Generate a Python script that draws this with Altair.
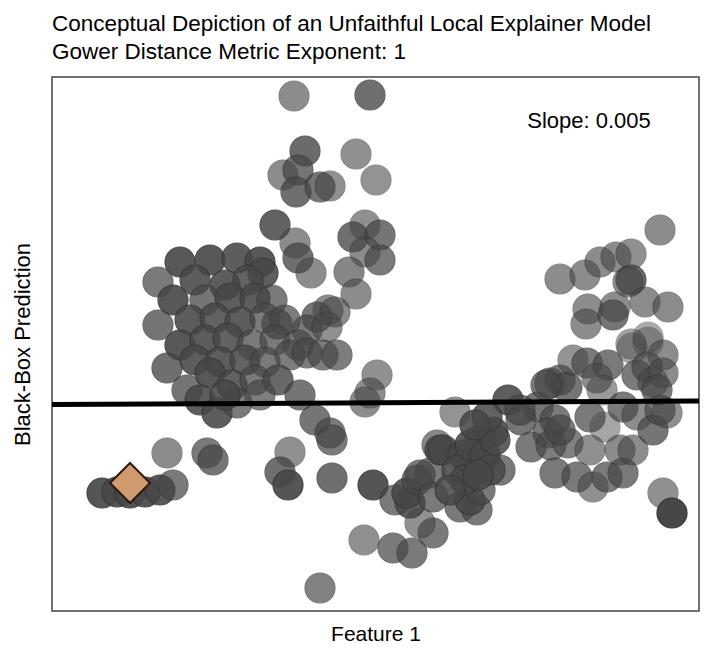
import altair as alt
import pandas as pd

# Feature 1 values, black-box predictions and weights (opacity) of the neighbourhood samples
feat = [2.42, 3.18, 2.53, 2.31, 2.46, 2.44, 2.68, 2.78, 3.04, 3.24,
        2.23, 2.43, 2.46, 2.59, 3.13, 3.01, 3.28, 3.13, 3.28, 2.97,
        3.04, 2.76, 2.65, 2.83, 2.25, 2.55, 2.75,
        1.28, 1.58, 1.85, 2.08, 1.06, 1.43, 1.73, 2.11, 1.96, 1.21,
        1.53, 1.78, 2.03, 2.20, 1.06, 1.38, 1.63, 1.88, 2.13, 2.33,
        1.28, 1.53, 1.76, 2.00, 2.23, 2.46, 1.15, 1.43, 1.68, 1.93,
        2.13, 2.38, 2.55, 2.71, 2.85, 1.35, 1.58, 1.80, 2.03, 2.26,
        2.48, 1.48, 1.65, 1.85, 1.73, 2.08, 2.63, 2.78, 2.80, 3.25,
        3.18, 3.13,
        1.15, 1.55, 1.61, 0.50, 0.65, 0.78, 0.93, 1.08, 1.21, 2.38,
        2.28, 2.36, 2.80, 3.12, 2.68,
        3.21, 3.41, 3.60, 3.81, 3.68, 3.58, 3.43, 3.55, 3.65, 3.78,
        3.85, 3.88, 4.03, 4.08, 4.25, 4.18, 3.91, 4.11, 4.28, 4.41,
        4.48, 4.21, 4.05, 3.68, 3.81, 4.28, 4.18, 4.33, 4.13, 4.38,
        3.98, 4.26, 4.43, 4.56, 4.86, 4.69, 5.03, 4.96, 4.79, 4.99,
        5.16, 4.68, 4.35, 4.23,
        5.08, 5.38, 5.03, 5.25, 5.41, 5.55, 5.71, 5.68, 5.81, 5.53,
        5.38, 5.71, 5.85, 6.01, 6.08, 6.15, 6.11, 6.20,
        4.98, 5.08, 5.15, 5.21, 5.35, 5.56, 5.45, 5.50, 5.80, 5.96,
        6.11, 5.85, 5.95, 6.01, 6.11, 6.05, 4.94,
        6.08, 5.08, 5.33, 5.48, 5.64, 5.79, 5.79, 5.76, 5.93, 6.16,
        5.36, 5.63, 5.34, 5.61, 5.96, 5.79]

pred = [5.15, 5.16, 4.60, 4.36, 4.41, 4.19, 4.24, 4.25, 4.57, 4.31,
        3.86, 3.68, 3.53, 3.38, 3.86, 3.74, 3.76, 3.59, 3.51, 3.39,
        3.17, 3.01, 2.94, 2.99, 2.87, 2.81, 2.84,
        3.49, 3.51, 3.53, 3.49, 3.29, 3.31, 3.26, 3.38, 3.31, 3.11,
        3.11, 3.13, 3.13, 3.11, 2.86, 2.91, 2.93, 2.89, 2.93, 2.91,
        2.66, 2.71, 2.73, 2.66, 2.71, 2.66, 2.43, 2.51, 2.49, 2.51,
        2.49, 2.56, 2.58, 2.56, 2.56, 2.21, 2.38, 2.26, 2.31, 2.31,
        2.16, 2.11, 1.98, 2.08, 2.16, 2.16, 1.91, 1.78, 1.71, 2.36,
        2.18, 2.09,
        1.58, 1.58, 1.51, 1.18, 1.19, 1.18, 1.19, 1.21, 1.26, 1.59,
        1.39, 1.26, 1.33, 0.71, 0.23,
        1.26, 0.63, 0.58, 0.78, 0.88, 1.08, 1.11, 1.18, 1.31, 1.38,
        1.66, 1.61, 1.99, 1.04, 1.01, 1.11, 1.61, 1.56, 1.71, 1.79,
        1.41, 1.48, 1.41, 1.36, 1.14, 1.21, 1.66, 1.56, 1.31, 1.41,
        1.21, 1.36, 1.71, 2.11, 2.04, 1.91, 1.91, 1.78, 1.64, 1.66,
        1.68, 2.01, 1.94, 1.86,
        1.81, 1.61, 1.38, 1.34, 1.24, 1.34, 1.38, 1.61, 1.61, 1.84,
        1.94, 2.04, 1.96, 1.81, 2.01, 1.98, 1.18, 0.98,
        2.28, 2.31, 2.24, 2.51, 2.48, 2.46, 2.33, 2.21, 2.63, 2.69,
        2.56, 2.36, 2.44, 2.29, 2.38, 2.21, 2.26,
        3.81, 3.32, 3.36, 3.49, 3.54, 3.57, 3.31, 3.29, 3.09, 3.04,
        3.02, 3.04, 2.87, 2.96, 2.74, 2.67]

weight = [0.62, 0.78, 0.80, 0.62, 0.75, 0.78, 0.75, 0.60, 0.60, 0.58,
          0.85, 0.62, 0.78, 0.62, 0.60, 0.78, 0.75, 0.62, 0.72, 0.65,
          0.62, 0.62, 0.75, 0.62, 0.75, 0.72, 0.60,
          0.90, 0.90, 0.88, 0.90, 0.72, 0.88, 0.88, 0.88, 0.85, 0.90,
          0.75, 0.88, 0.88, 0.72, 0.75, 0.88, 0.85, 0.88, 0.72, 0.70,
          0.90, 0.88, 0.85, 0.72, 0.72, 0.70, 0.78, 0.88, 0.88, 0.85,
          0.72, 0.70, 0.72, 0.70, 0.70, 0.75, 0.90, 0.85, 0.72, 0.82,
          0.75, 0.88, 0.88, 0.72, 0.88, 0.70, 0.75, 0.72, 0.72, 0.60,
          0.62, 0.62,
          0.62, 0.72, 0.75, 0.92, 0.92, 0.92, 0.92, 0.90, 0.72, 0.60,
          0.78, 0.92, 0.78, 0.60, 0.68,
          0.92, 0.72, 0.72, 0.72, 0.60, 0.88, 0.72, 0.88, 0.72, 0.72,
          0.65, 0.85, 0.58, 0.72, 0.72, 0.88, 0.85, 0.88, 0.88, 0.88,
          0.72, 0.88, 0.88, 0.72, 0.72, 0.72, 0.88, 0.88, 0.88, 0.85,
          0.85, 0.88, 0.85, 0.88, 0.75, 0.75, 0.72, 0.72, 0.72, 0.70,
          0.68, 0.75, 0.85, 0.88,
          0.72, 0.60, 0.72, 0.72, 0.60, 0.72, 0.72, 0.62, 0.62, 0.48,
          0.72, 0.72, 0.62, 0.75, 0.72, 0.60, 0.60, 1.00,
          0.72, 0.72, 0.75, 0.58, 0.72, 0.72, 0.62, 0.55, 0.48, 0.45,
          0.62, 0.72, 0.72, 0.62, 0.62, 0.72, 0.72,
          0.62, 0.62, 0.62, 0.62, 0.62, 0.60, 0.82, 0.62, 0.62, 0.62,
          0.62, 0.62, 0.62, 0.75, 0.45, 0.50]

# Local explainer fit (line) and the instance being explained (diamond)
fit_x = [0.0, 6.47]
fit_y = [2.065, 2.10]
inst_x = [0.78]
inst_y = [1.28]
slope_label = ["Slope: 0.005"]
label_x = [5.37]
label_y = [4.90]

X_DOM = [0, 6.47]
Y_DOM = [0, 5.34]

pts = pd.DataFrame({"x": feat, "y": pred, "w": weight})
fit = pd.DataFrame({"x": fit_x, "y": fit_y})
inst = pd.DataFrame({"x": inst_x, "y": inst_y})
lab = pd.DataFrame({"x": label_x, "y": label_y, "t": slope_label})

FONT = "Liberation Sans"
xs = alt.Scale(domain=X_DOM, nice=False, zero=False)
ys = alt.Scale(domain=Y_DOM, nice=False, zero=False)
xax = alt.Axis(title="Feature 1", labels=False, ticks=False, domain=False, grid=False,
               titleFontSize=21, titleFontWeight="normal", titleFont=FONT,
               titleColor="#000", titlePadding=12)
yax = alt.Axis(title="Black-Box Prediction", labels=False, ticks=False, domain=False, grid=False,
               titleFontSize=22, titleFontWeight="normal", titleFont=FONT,
               titleColor="#000", titlePadding=18)

circles = alt.Chart(pts).mark_circle(size=900, color="#474747", stroke="#383838",
                                      strokeWidth=1.2, clip=True).encode(
    x=alt.X("x:Q", scale=xs, axis=xax),
    y=alt.Y("y:Q", scale=ys, axis=yax),
    opacity=alt.Opacity("w:Q", scale=None, legend=None),
)

line = alt.Chart(fit).mark_line(color="black", strokeWidth=5, clip=True).encode(
    x=alt.X("x:Q", scale=xs), y=alt.Y("y:Q", scale=ys))

diamond = alt.Chart(inst).mark_point(shape="diamond", size=1600, filled=True,
                                     fill="#d19a6e", stroke="#2a1a10", strokeWidth=2,
                                     opacity=1).encode(
    x=alt.X("x:Q", scale=xs), y=alt.Y("y:Q", scale=ys))

text = alt.Chart(lab).mark_text(fontSize=22, font=FONT, color="#000").encode(
    x=alt.X("x:Q", scale=xs), y=alt.Y("y:Q", scale=ys), text="t:N")

chart = alt.layer(circles, line, diamond, text).properties(
    width=647, height=534,
    autosize=alt.AutoSizeParams(type="none"),
    padding={"left": 44, "top": 69, "right": 1, "bottom": 36},
    title=alt.TitleParams(
        text=["Conceptual Depiction of an Unfaithful Local Explainer Model",
              "Gower Distance Metric Exponent: 1"],
        anchor="start", frame="group", fontSize=22.5, fontWeight="normal",
        font=FONT, color="#000", lineHeight=28, offset=14),
).configure_view(stroke="#444", strokeWidth=1.5)

chart.save("out.html", embed_options={"renderer": "svg", "actions": False})
